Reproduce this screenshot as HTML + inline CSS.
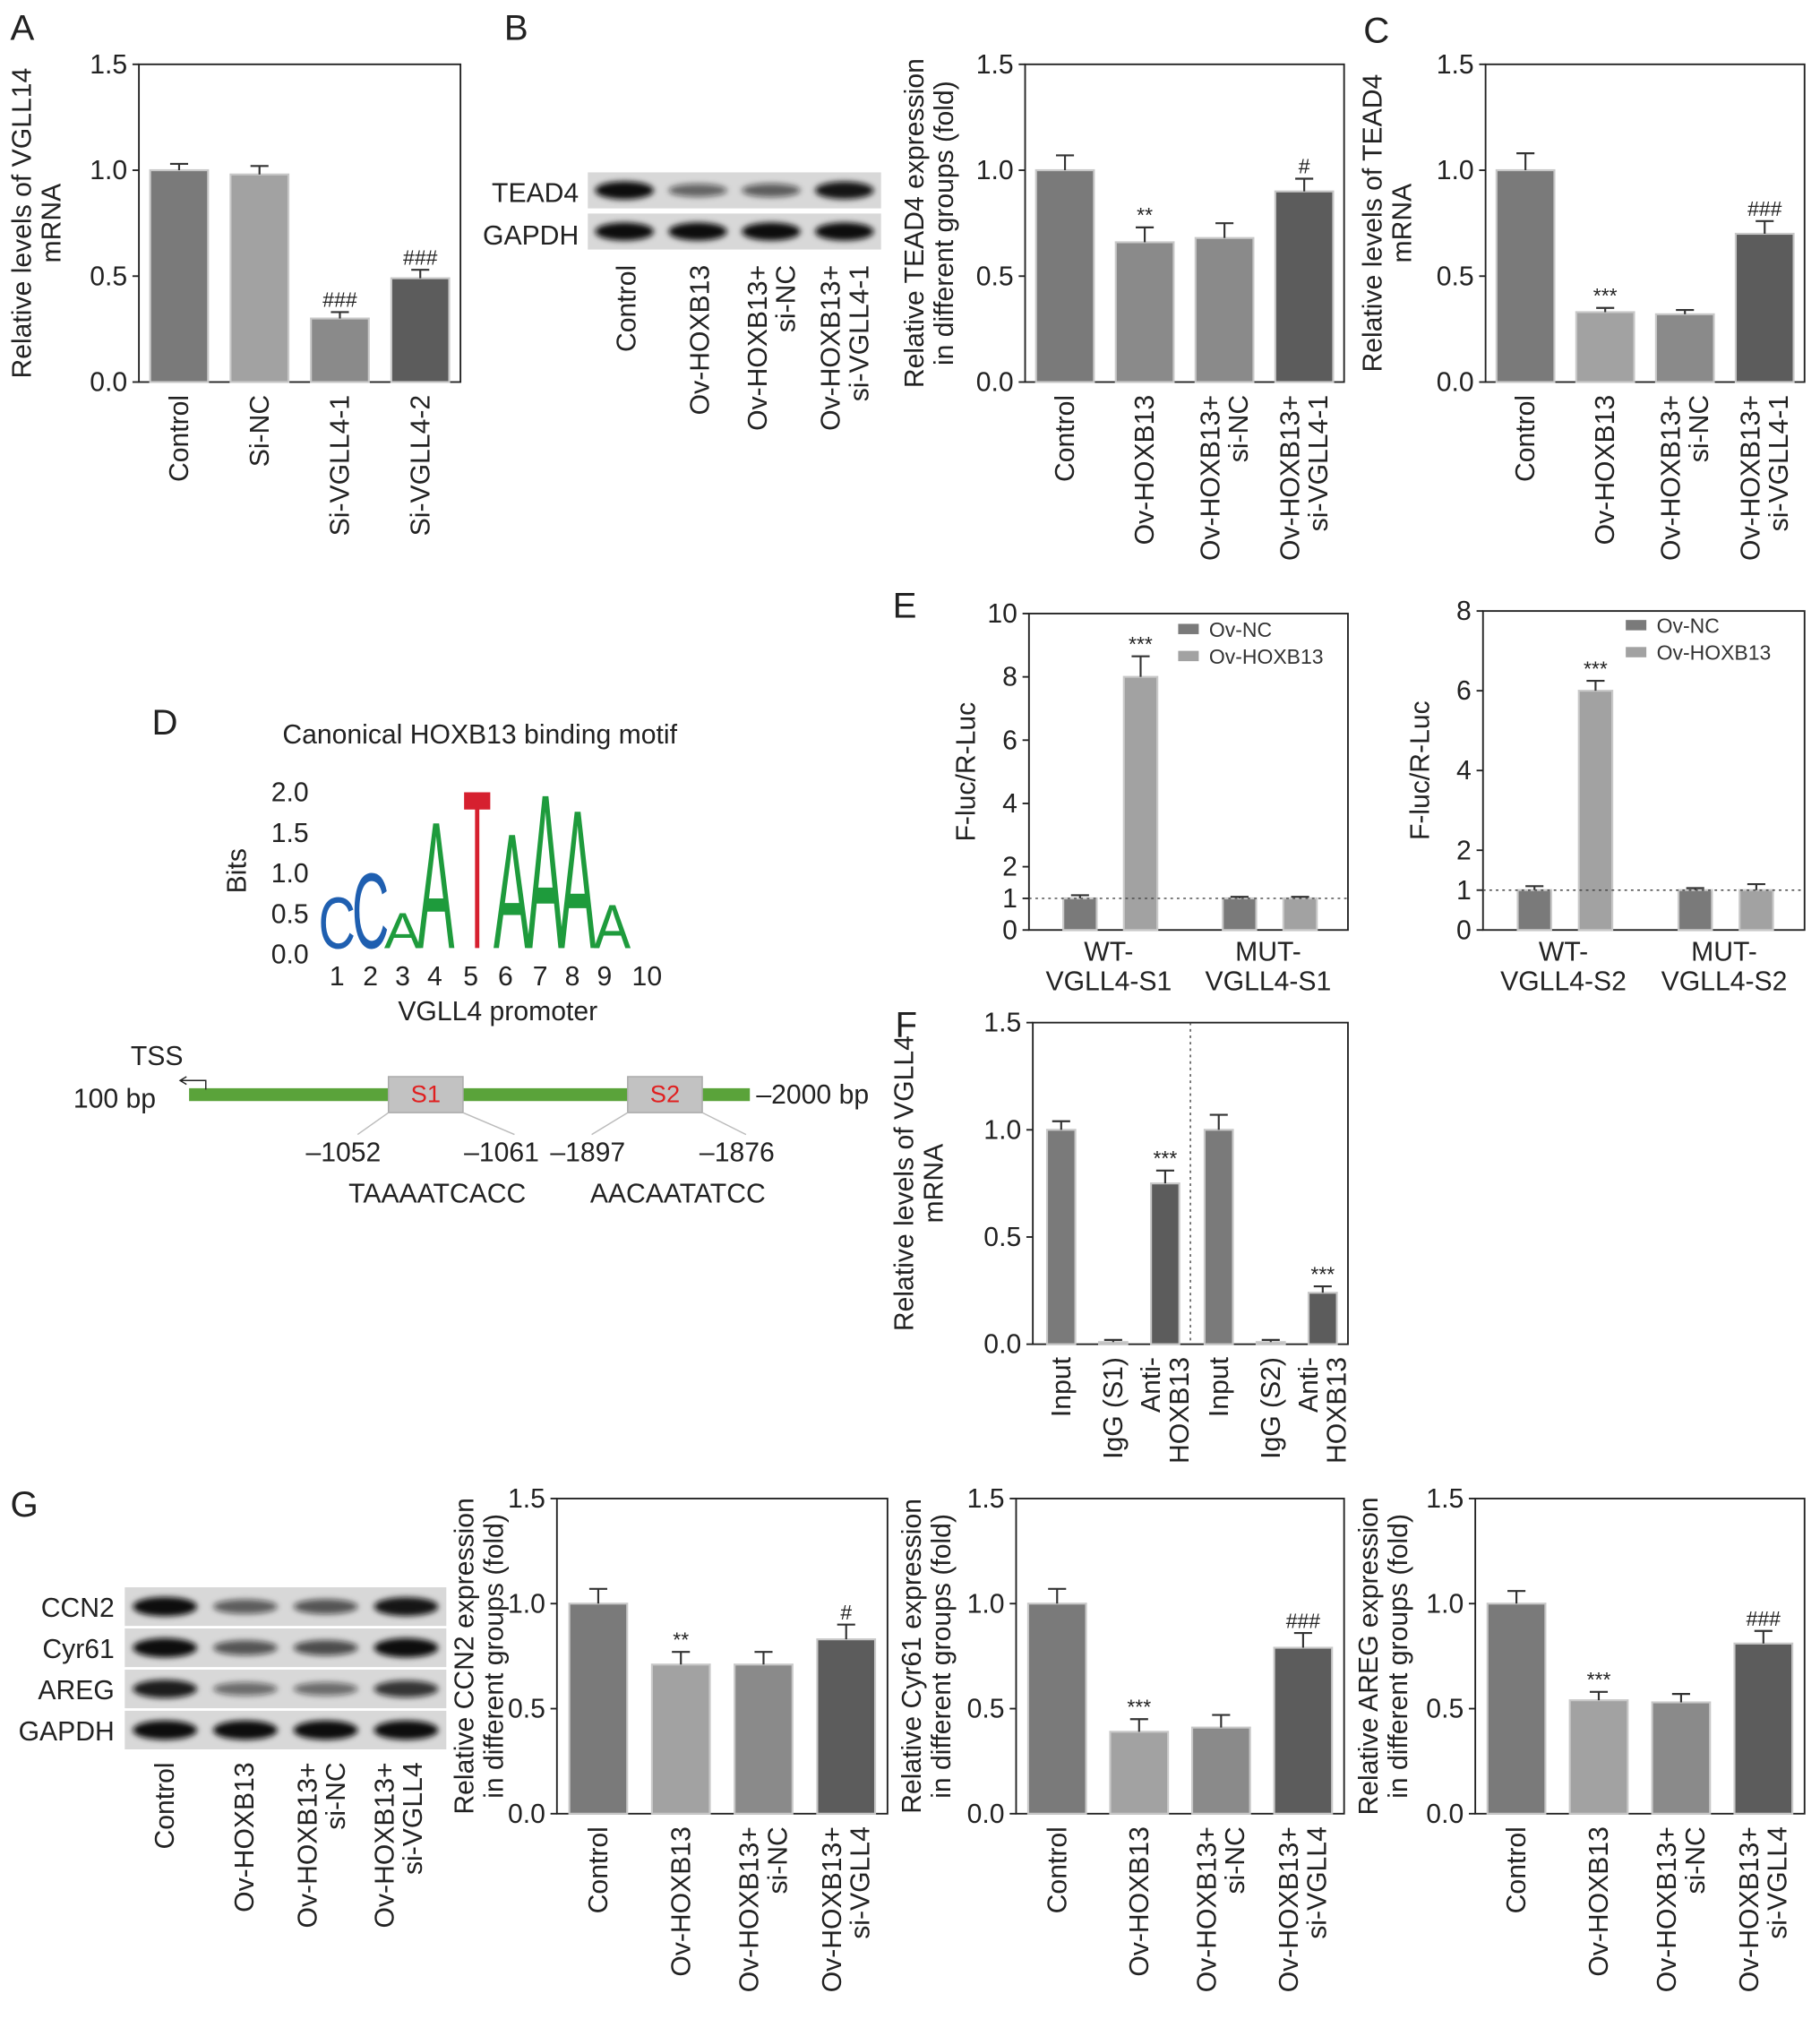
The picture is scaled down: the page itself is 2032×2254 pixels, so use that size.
<!DOCTYPE html>
<html><head><meta charset="utf-8"><style>
html,body{margin:0;padding:0;background:#fff;}
svg{display:block;font-family:"Liberation Sans",Arial,sans-serif;}
</style></head><body>
<svg id="fig" xmlns="http://www.w3.org/2000/svg" width="2032" height="2254" viewBox="0 0 1415 1569.6">
<defs><filter id="blur" x="-20%" y="-50%" width="140%" height="200%"><feGaussianBlur stdDeviation="2.2"/></filter></defs>
<g id="root"></g>
</svg>
<script>
// ---------- data ----------
const aCats=[["Control"],["Si-NC"],["Si-VGLL4-1"],["Si-VGLL4-2"]];
const aVals=[1.0,0.98,0.30,0.49];
const aErrs=[0.03,0.04,0.03,0.04];
const aAnn=["","","###","###"];
const grpCats=[["Control"],["Ov-HOXB13"],["Ov-HOXB13+","si-NC"],["Ov-HOXB13+","si-VGLL4-1"]];
const bVals=[1.0,0.66,0.68,0.90];
const bErrs=[0.07,0.07,0.07,0.06];
const bAnn=["","**","","#"];
const cVals=[1.0,0.33,0.32,0.70];
const cErrs=[0.08,0.02,0.02,0.06];
const cAnn=["","***","","###"];
const eCats=[["WT-","VGLL4-S1"],["MUT-","VGLL4-S1"]];
const eNC=[1.0,1.0];
const eHOX=[8.0,1.0];
const eNCerr=[0.1,0.05];
const eHOXerr=[0.65,0.05];
const e2Cats=[["WT-","VGLL4-S2"],["MUT-","VGLL4-S2"]];
const e2NC=[1.0,1.0];
const e2HOX=[6.0,1.0];
const e2NCerr=[0.1,0.05];
const e2HOXerr=[0.25,0.15];
const fCats=[["Input"],["IgG (S1)"],["Anti-","HOXB13"],["Input"],["IgG (S2)"],["Anti-","HOXB13"]];
const fVals=[1.0,0.01,0.75,1.0,0.01,0.24];
const fErrs=[0.04,0.01,0.06,0.07,0.01,0.03];
const fAnn=["","","***","","","***"];
const gCats=[["Control"],["Ov-HOXB13"],["Ov-HOXB13+","si-NC"],["Ov-HOXB13+","si-VGLL4"]];
const ccnVals=[1.0,0.71,0.71,0.83];
const ccnErrs=[0.07,0.06,0.06,0.07];
const ccnAnn=["","**","","#"];
const cyrVals=[1.0,0.39,0.41,0.79];
const cyrErrs=[0.07,0.06,0.06,0.07];
const cyrAnn=["","***","","###"];
const aregVals=[1.0,0.54,0.53,0.81];
const aregErrs=[0.06,0.04,0.04,0.06];
const aregAnn=["","***","","###"];
const linTicks=[0,0.5,1.0,1.5];
const linTickLabels=["0.0","0.5","1.0","1.5"];
const eTicks=[0,1,2,4,6,8,10];
const e2Ticks=[0,1,2,4,6,8];
const logoLetters=["C","C","A","A","T","A","A","A","A"];
const logoHeights=[0.65,0.95,0.45,1.6,2.0,1.45,1.95,1.75,0.55];

// ---------- helpers ----------
const NS="http://www.w3.org/2000/svg";
const root=document.getElementById('root');
const FS=21;
function mk(tag,attrs,parent,txt){const e=document.createElementNS(NS,tag);for(const k in attrs)e.setAttribute(k,attrs[k]);if(txt!==undefined)e.textContent=txt;(parent||root).appendChild(e);return e;}
function label(x,y,t,size,name,anchor,extra){const e=mk('text',Object.assign({x:x,y:y,'font-size':size,'text-anchor':anchor||'start',fill:'#222'},extra||{}),root,t);


return e;}
function scaleY(y0,y1,max){return v=>y1-(v/max)*(y1-y0);}

function axes(g,x0,x1,y0,y1,max,ticks,tickLabels){
  mk('rect',{x:x0,y:y0,width:x1-x0,height:y1-y0,fill:'none',stroke:'#222','stroke-width':1.3},g);
  const sy=scaleY(y0,y1,max);
  ticks.forEach((t,i)=>{const y=sy(t);
    mk('line',{x1:x0-5,x2:x0,y1:y,y2:y,stroke:'#222','stroke-width':1.3},g);
    const tl=mk('text',{x:x0-9,y:y+7,'font-size':FS,'text-anchor':'end',fill:'#222'},g,tickLabels?tickLabels[i]:String(t));
    
    
  });
  return sy;
}
function xlabels(g,cxs,cats,y1,size){
  cats.forEach((c,i)=>{const n=c.length;
    c.forEach((line,j)=>{const off=(j-(n-1)/2)*22;
      const t=mk('text',{x:0,y:0,'font-size':size||FS,'text-anchor':'end',fill:'#222',transform:`translate(${cxs[i]+7+off},${y1+10}) rotate(-90)`},g,line);
      
      
    });
  });
}
function ytitle(g,x,cy,lines){
  lines.forEach((l,j)=>{const t=mk('text',{x:0,y:0,'font-size':FS,'text-anchor':'middle',fill:'#222',transform:`translate(${x+j*23},${cy}) rotate(-90)`},g,l);
    
    });
}
function bar(g,cx,w,v,e,sy,col,ann,name){
  const y=sy(v),yb=sy(0);
  const r=mk('rect',{x:cx-w/2,y:y,width:w,height:yb-y,fill:col,stroke:'#c8c8c8','stroke-width':1.5},g);
  
  
  const ye=sy(v+e);
  mk('line',{x1:cx,x2:cx,y1:y,y2:ye,stroke:'#333','stroke-width':1.5},g);
  mk('line',{x1:cx-7,x2:cx+7,y1:ye,y2:ye,stroke:'#333','stroke-width':1.5},g);
  if(ann){const t=mk('text',{x:cx,y:ye-4,'font-size':16,'text-anchor':'middle',fill:'#222'},g,ann);
    
    }
}
function barChart(name,x0,x1,y0,y1,cats,vals,errs,anns,cols,titleLines,titleX,w){
  const g=mk('g',{});
  
  
  const sy=axes(g,x0,x1,y0,y1,1.5,linTicks,linTickLabels);
  const n=vals.length,step=(x1-x0)/n;
  const cxs=vals.map((v,i)=>x0+step*(i+0.5));
  vals.forEach((v,i)=>bar(g,cxs[i],w||45,v,errs[i],sy,cols[i%cols.length],anns[i],'bar-'+i));
  xlabels(g,cxs,cats,y1);
  ytitle(g,titleX,(y0+y1)/2,titleLines);
  return g;
}
const C4=['#7a7a7a','#a2a2a2','#8a8a8a','#5c5c5c'];

// ---------- panel letters ----------
[["A",8,31],["B",392,31],["C",1060,33],["D",118,571],["E",694,480],["F",696,806],["G",8,1179]].forEach(p=>label(p[1],p[2],p[0],28,'panel-label-'+p[0].toLowerCase()));

// ---------- A ----------
barChart('panel-a-chart',108,358,50,297,aCats,aVals,aErrs,aAnn,C4,["Relative levels of VGLL14","mRNA"],24,45);
barChart('panel-b-chart',797,1045,50,297,grpCats,bVals,bErrs,bAnn,['#7a7a7a','#8a8a8a','#8a8a8a','#5c5c5c'],["Relative TEAD4 expression","in different groups (fold)"],718,45);
barChart('panel-c-chart',1155,1403,50,297,grpCats,cVals,cErrs,cAnn,['#7a7a7a','#a2a2a2','#8a8a8a','#5c5c5c'],["Relative levels of TEAD4","mRNA"],1074,45);
barChart('panel-g-ccn2-chart',433,690,1165,1410,gCats,ccnVals,ccnErrs,ccnAnn,['#7a7a7a','#a2a2a2','#8a8a8a','#5c5c5c'],["Relative CCN2 expression","in different groups (fold)"],368,45);
barChart('panel-g-cyr61-chart',790,1045,1165,1410,gCats,cyrVals,cyrErrs,cyrAnn,['#7a7a7a','#a2a2a2','#8a8a8a','#5c5c5c'],["Relative Cyr61 expression","in different groups (fold)"],716,45);
barChart('panel-g-areg-chart',1147,1403,1165,1410,gCats,aregVals,aregErrs,aregAnn,['#7a7a7a','#a2a2a2','#8a8a8a','#5c5c5c'],["Relative AREG expression","in different groups (fold)"],1071,45);

// ---------- F ----------
(function(){
  const g=mk('g',{});
  
  
  const x0=803,x1=1048,y0=795,y1=1045;
  const sy=axes(g,x0,x1,y0,y1,1.5,linTicks,linTickLabels);
  const half=(x1-x0)/2;
  const cxs=fVals.map((v,i)=>{const side=Math.floor(i/3),k=i%3;return x0+side*half+half*(0.18+k*0.33);});
  const cols=['#7a7a7a','#a2a2a2','#5c5c5c'];
  fVals.forEach((v,i)=>bar(g,cxs[i],22,v,fErrs[i],sy,cols[i%3],fAnn[i],'bar-'+i));
  mk('line',{x1:x0+half,x2:x0+half,y1:y0,y2:y1,stroke:'#444','stroke-width':1,'stroke-dasharray':'2,3'},g);
  xlabels(g,cxs,fCats,y1);
  ytitle(g,710,(y0+y1)/2,["Relative levels of VGLL4","mRNA"]);
})();

// ---------- E ----------
function eChart(name,x0,x1,y0,y1,max,ticks,cats,nc,hox,ncE,hoxE,legX,legY){
  const g=mk('g',{});
  
  
  const sy=axes(g,x0,x1,y0,y1,max,ticks);
  const step=(x1-x0)/2;
  nc.forEach((v,i)=>{const c=x0+step*i+step*0.32;
    bar(g,c,26,v,ncE[i],sy,'#7a7a7a','','bar-ov-nc-'+i);
    bar(g,c+step*0.38,26,hox[i],hoxE[i],sy,'#a2a2a2',hox[i]>2?'***':'','bar-ov-hoxb13-'+i);});
  mk('line',{x1:x0,x2:x1,y1:sy(1),y2:sy(1),stroke:'#444','stroke-width':1,'stroke-dasharray':'2,3'},g);
  cats.forEach((c,i)=>{const cx=x0+step*(i+0.5);
    c.forEach((l,j)=>{const t=mk('text',{x:cx,y:y1+24+j*23,'font-size':FS,'text-anchor':'middle',fill:'#222'},g,l);
      
      });});
  [['Ov-NC','#7a7a7a'],['Ov-HOXB13','#a2a2a2']].forEach((L,i)=>{
    const lg=mk('g',{},g);
    
    
    mk('rect',{x:legX,y:legY+i*21-5,width:16,height:8,fill:L[1]},lg);
    mk('text',{x:legX+24,y:legY+i*21+5,'font-size':16,fill:'#333'},lg,L[0]);});
  ytitle(g,x0-42,(y0+y1)/2,["F-luc/R-Luc"]);
}
eChart('panel-e-left-chart',800,1048,477,723,10,eTicks,eCats,eNC,eHOX,eNCerr,eHOXerr,916,490);
eChart('panel-e-right-chart',1153,1403,475,723,8,e2Ticks,e2Cats,e2NC,e2HOX,e2NCerr,e2HOXerr,1264,487);

// ---------- Western blots ----------
function blot(name,x,y,w,h,intens){
  const g=mk('g',{});
  
  
  mk('rect',{x:x,y:y,width:w,height:h,fill:'#d8d8d8'},g);
  const n=intens.length,step=w/n;
  intens.forEach((t,i)=>{mk('ellipse',{cx:x+step*(i+0.5),cy:y+h/2,rx:step*0.4,ry:h*0.25*(0.5+t/2),fill:'#111','fill-opacity':0.25+0.75*t,filter:'url(#blur)'},g);});
}
blot('tead4-blot',457,134,228,28,[1,0.45,0.5,0.95]);
blot('gapdh-blot-b',457,166,228,28,[1,1,1,1]);
label(450,157,'TEAD4',FS,'blot-label-tead4','end');
label(450,190,'GAPDH',FS,'blot-label-gapdh','end');
xlabels(root,[487,544,600,657],grpCats,196);
blot('ccn2-blot',97,1234,250,30,[1,0.5,0.55,0.95]);
blot('cyr61-blot',97,1266,250,30,[1,0.55,0.6,1]);
blot('areg-blot',97,1298,250,30,[0.9,0.4,0.4,0.75]);
blot('gapdh-blot-g',97,1330,250,30,[1,1,1,1]);
label(89,1257,'CCN2',FS,'blot-label-ccn2','end');
label(89,1289,'Cyr61',FS,'blot-label-cyr61','end');
label(89,1321,'AREG',FS,'blot-label-areg','end');
label(89,1353,'GAPDH',FS,'blot-label-gapdh','end');
xlabels(root,[128,190,250,310],gCats,1360);

// ---------- D motif ----------
label(373,578,'Canonical HOXB13 binding motif',FS,'motif-title','middle');
(function(){
  const base=741,ppb=63;
  ["0.0","0.5","1.0","1.5","2.0"].forEach((t,i)=>label(240,base-i*ppb/2+8,t,FS,'logo-y-tick','end'));
  const t=mk('text',{x:0,y:0,'font-size':FS,'text-anchor':'middle',fill:'#222',transform:'translate(191,677) rotate(-90)'},root,'Bits');
  
  
  const xs=[262,288,313,339,371,398,424,449,476];
  const colMap={C:'#1f5fb0',A:'#1e9b3c',T:'#d6202f',G:'#f0a020'};
  logoLetters.forEach((L,i)=>{const h=logoHeights[i]*ppb;const fs=20;
    const sx=L==='T'?1.8:(L==='C'?2.0:2.15);
    const e=mk('text',{x:0,y:0,'font-size':fs,'text-anchor':'middle',fill:colMap[L],transform:`translate(${xs[i]},${base-4}) scale(${sx},${h/(0.716*fs)})`},root,L);
    
    });
  const nums=[262,288,313,338,366,393,420,445,470,503];
  nums.forEach((x,i)=>label(x,766,String(i+1),FS,'logo-x-tick','middle'));
  label(387,793,'VGLL4 promoter',FS,'logo-x-title','middle');
})();
// promoter diagram
(function(){
  const g=mk('g',{});
  
  
  mk('rect',{x:147,y:846,width:436,height:10,fill:'#5aa33a'},g);
  mk('rect',{x:302,y:837,width:58,height:28,fill:'#c2c2c2',stroke:'#aaa'},g);
  mk('rect',{x:488,y:837,width:58,height:28,fill:'#c2c2c2',stroke:'#aaa'},g);
  mk('text',{x:331,y:857,'font-size':19,'text-anchor':'middle',fill:'#e02020'},g,'S1');
  mk('text',{x:517,y:857,'font-size':19,'text-anchor':'middle',fill:'#e02020'},g,'S2');
  mk('polyline',{points:'160,847 160,840 140,840',fill:'none',stroke:'#222','stroke-width':1},g);
  mk('polyline',{points:'145,837 140,840 145,843',fill:'none',stroke:'#222','stroke-width':1},g);
  [[302,865,278,882],[360,865,400,882],[488,865,460,882],[546,865,580,882]].forEach(l=>mk('line',{x1:l[0],y1:l[1],x2:l[2],y2:l[3],stroke:'#bbb','stroke-width':1},g));
})();
label(122,828,'TSS',FS,'tss-label','middle');
label(57,861,'100 bp',FS,'start-label');
label(588,858,'\u20132000 bp',FS,'end-label');
label(267,903,'\u20131052',FS,'pos-1052','middle');
label(390,903,'\u20131061',FS,'pos-1061','middle');
label(457,903,'\u20131897',FS,'pos-1897','middle');
label(573,903,'\u20131876',FS,'pos-1876','middle');
label(340,935,'TAAAATCACC',FS,'s1-sequence','middle');
label(527,935,'AACAATATCC',FS,'s2-sequence','middle');
</script>
</body></html>
